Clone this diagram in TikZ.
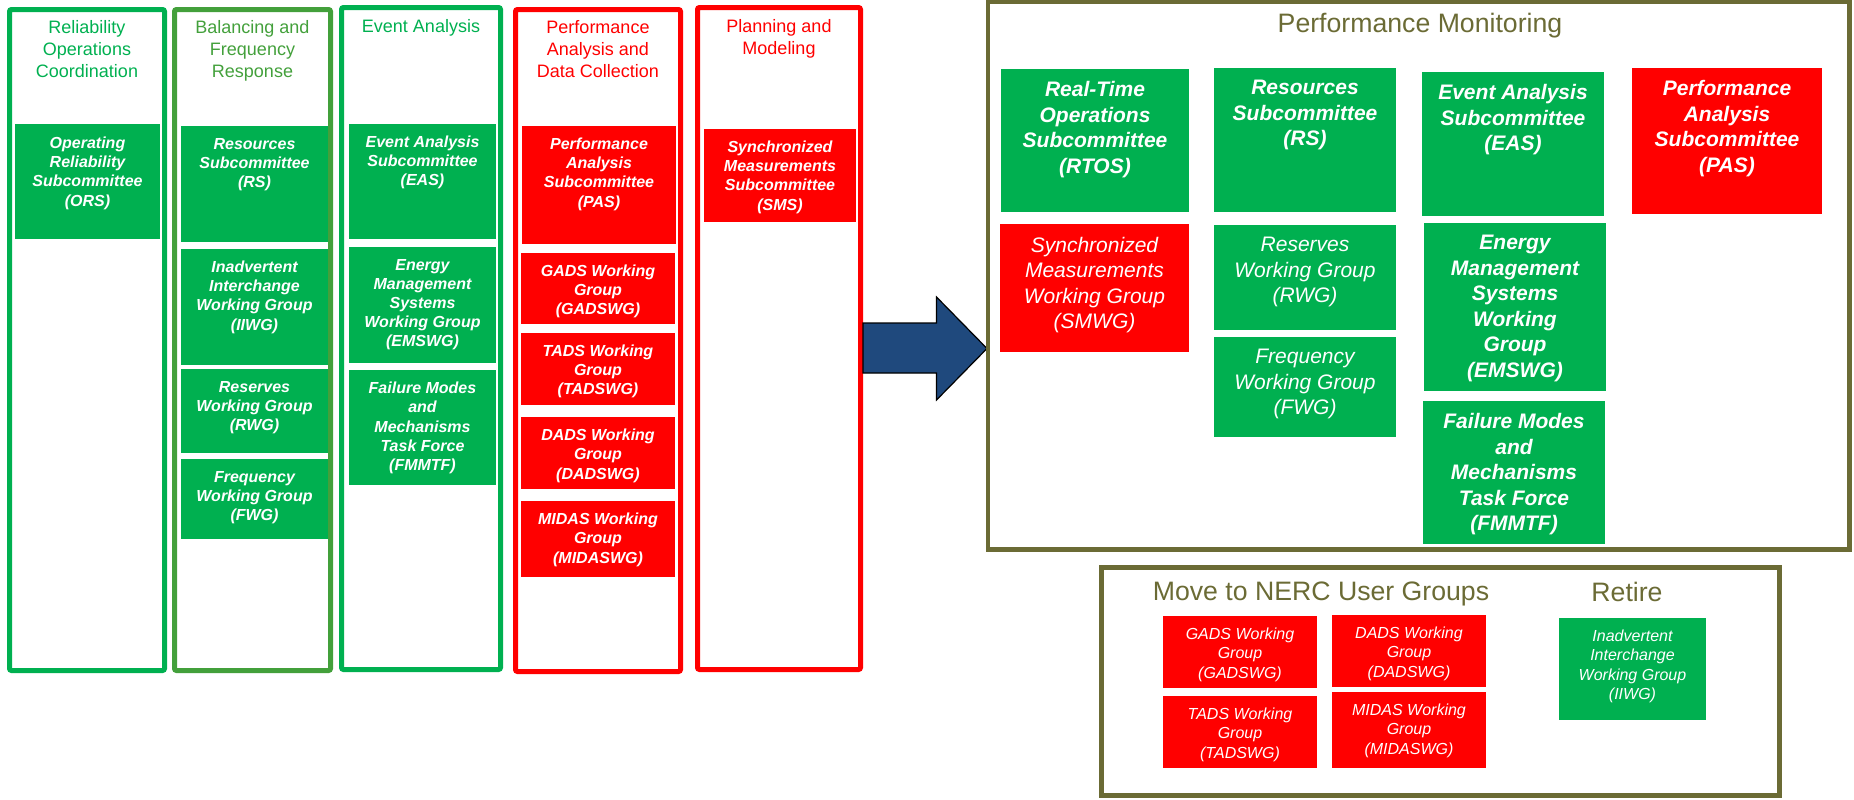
\documentclass[tikz,border=0pt]{standalone}
\usepackage{fontspec}
\setmainfont{Liberation Sans}
\usepackage{xcolor}
\usepackage{tikz}
\usetikzlibrary{fit}

\definecolor{cgreen}{HTML}{00B050}
\definecolor{cgreenb}{HTML}{43A03B}
\definecolor{cred}{HTML}{FF0000}
\definecolor{colive}{HTML}{6B6B35}
\definecolor{cblue}{HTML}{1F497D}
\newlength\pxu
\setlength\pxu{0.75pt}

\begin{document}
\begin{tikzpicture}[x=0.75pt,y=-0.75pt,
    col/.style={draw,line width=5\pxu,rounded corners=2\pxu,inner sep=0pt},
    frame/.style={draw=colive,line width=4.5\pxu,inner sep=0pt},
    gbox/.style={fill=cgreen,inner sep=0pt},
    rbox/.style={fill=cred,inner sep=0pt},
    coltitle/.style={anchor=north,align=center,inner sep=0pt,font=\fontsize{13.5}{16.3}\selectfont},
    bigtitle/.style={anchor=north,align=center,inner sep=0pt,text=colive,font=\fontsize{20}{24}\selectfont},
    btext/.style={anchor=north,align=center,inner sep=0pt,text=white,font=\fontsize{12}{14.4}\selectfont\bfseries\itshape},
    mtext/.style={anchor=north,align=center,inner sep=0pt,text=white,font=\fontsize{15.75}{19.1}\selectfont\bfseries\itshape},
    mtextr/.style={anchor=north,align=center,inner sep=0pt,text=white,font=\fontsize{15.75}{19.1}\selectfont\itshape},
    stext/.style={anchor=north,align=center,inner sep=0pt,text=white,font=\fontsize{12}{14.5}\selectfont\itshape}]
    \useasboundingbox (0,0) rectangle (1854,800);

    % old committee columns
    \node[col,draw=cgreen,fit={(9.5,9.5) (164.5,670.5)}] (roc) {};
    \node[col,draw=cgreenb,fit={(174.5,9.5) (330.5,670.5)}] (bfr) {};
    \node[col,draw=cgreen,fit={(341.5,7.5) (500.5,669.5)}] (ea) {};
    \node[col,draw=cred,fit={(515.5,9.5) (680.5,671.5)}] (padc) {};
    \node[col,draw=cred,fit={(697.5,7.5) (860.5,669.5)}] (pm) {};
    \node[coltitle,text=cgreen] (roc-t) at (87,20.5) {Reliability\\Operations\\Coordination};
    \node[coltitle,text=cgreenb] (bfr-t) at (252.5,20.5) {Balancing and\\Frequency\\Response};
    \node[coltitle,text=cgreen] (ea-t) at (421,19) {Event Analysis};
    \node[coltitle,text=cred] (padc-t) at (598,20.5) {Performance\\Analysis and\\Data Collection};
    \node[coltitle,text=cred] (pm-t) at (779,19) {Planning and\\Modeling};

    \node[gbox,fit={(15,124) (160,239)}] (ors) {};
    \node[btext] (ors-t) at ([yshift=-13\pxu]ors.north) {Operating\\Reliability\\Subcommittee\\(ORS)};
    \node[gbox,fit={(181,126) (328,242)}] (rs) {};
    \node[btext] (rs-t) at ([yshift=-12.5\pxu]rs.north) {Resources\\Subcommittee\\(RS)};
    \node[gbox,fit={(181,249) (328,365)}] (iiwg) {};
    \node[btext] (iiwg-t) at ([yshift=-12\pxu]iiwg.north) {Inadvertent\\Interchange\\Working Group\\(IIWG)};
    \node[gbox,fit={(181,369) (328,453)}] (rwg) {};
    \node[btext] (rwg-t) at ([yshift=-12\pxu]rwg.north) {Reserves\\Working Group\\(RWG)};
    \node[gbox,fit={(181,459) (328,539)}] (fwg) {};
    \node[btext] (fwg-t) at ([yshift=-12\pxu]fwg.north) {Frequency\\Working Group\\(FWG)};
    \node[gbox,fit={(349,124) (496,239)}] (eas) {};
    \node[btext] (eas-t) at ([yshift=-11.5\pxu]eas.north) {Event Analysis\\Subcommittee\\(EAS)};
    \node[gbox,fit={(349,247) (496,363)}] (emswg) {};
    \node[btext] (emswg-t) at ([yshift=-12\pxu]emswg.north) {Energy\\Management\\Systems\\Working Group\\(EMSWG)};
    \node[gbox,fit={(349,370) (496,485)}] (fmmtf) {};
    \node[btext] (fmmtf-t) at ([yshift=-12\pxu]fmmtf.north) {Failure Modes\\and\\Mechanisms\\Task Force\\(FMMTF)};
    \node[rbox,fit={(522,126) (676,244)}] (pas) {};
    \node[btext] (pas-t) at ([yshift=-12\pxu]pas.north) {Performance\\Analysis\\Subcommittee\\(PAS)};
    \node[rbox,fit={(521,253) (675,324)}] (gadswg) {};
    \node[btext] (gadswg-t) at ([yshift=-11.5\pxu]gadswg.north) {GADS Working\\Group\\(GADSWG)};
    \node[rbox,fit={(521,333) (675,405)}] (tadswg) {};
    \node[btext] (tadswg-t) at ([yshift=-12\pxu]tadswg.north) {TADS Working\\Group\\(TADSWG)};
    \node[rbox,fit={(521,417) (675,489)}] (dadswg) {};
    \node[btext] (dadswg-t) at ([yshift=-12\pxu]dadswg.north) {DADS Working\\Group\\(DADSWG)};
    \node[rbox,fit={(521,501) (675,577)}] (midaswg) {};
    \node[btext] (midaswg-t) at ([yshift=-12\pxu]midaswg.north) {MIDAS Working\\Group\\(MIDASWG)};
    \node[rbox,fit={(704,129) (856,222)}] (sms) {};
    \node[btext] (sms-t) at ([yshift=-12\pxu]sms.north) {Synchronized\\Measurements\\Subcommittee\\(SMS)};

    % the big arrow
    \draw[fill=cblue,line width=1.2\pxu,line join=miter] (pm.east |- 0,323) -- (936.5,323) -- (936.5,297)
        -- (987,348.5) -- (936.5,400) -- (936.5,373) -- (pm.east |- 0,373) -- cycle;

    % new structure
    \node[frame,fit={(988,1.5) (1849.5,549.5)}] (pmon) {};
    \node[bigtitle] (pmon-t) at (1420,13) {Performance Monitoring};
    \node[gbox,fit={(1001,69) (1189,212)}] (rtos) {};
    \node[mtext] (rtos-t) at ([yshift=-12.5\pxu]rtos.north) {Real-Time\\Operations\\Subcommittee\\(RTOS)};
    \node[gbox,fit={(1214,68) (1396,212)}] (rs2) {};
    \node[mtext] (rs2-t) at ([yshift=-12.5\pxu]rs2.north) {Resources\\Subcommittee\\(RS)};
    \node[gbox,fit={(1422,72) (1604,216)}] (eas2) {};
    \node[mtext] (eas2-t) at ([yshift=-12.5\pxu]eas2.north) {Event Analysis\\Subcommittee\\(EAS)};
    \node[rbox,fit={(1632,68) (1822,214)}] (pas2) {};
    \node[mtext] (pas2-t) at ([yshift=-12.5\pxu]pas2.north) {Performance\\Analysis\\Subcommittee\\(PAS)};
    \node[rbox,fit={(1000,224) (1189,352)}] (smwg) {};
    \node[mtextr] (smwg-t) at ([yshift=-13\pxu]smwg.north) {Synchronized\\Measurements\\Working Group\\(SMWG)};
    \node[gbox,fit={(1214,225) (1396,330)}] (rwg2) {};
    \node[mtextr] (rwg2-t) at ([yshift=-12.5\pxu]rwg2.north) {Reserves\\Working Group\\(RWG)};
    \node[gbox,fit={(1214,337) (1396,437)}] (fwg2) {};
    \node[mtextr] (fwg2-t) at ([yshift=-12.5\pxu]fwg2.north) {Frequency\\Working Group\\(FWG)};
    \node[gbox,fit={(1424,223) (1606,391)}] (emswg2) {};
    \node[mtext] (emswg2-t) at ([yshift=-12.5\pxu]emswg2.north) {Energy\\Management\\Systems\\Working\\Group\\(EMSWG)};
    \node[gbox,fit={(1423,401) (1605,544)}] (fmmtf2) {};
    \node[mtext] (fmmtf2-t) at ([yshift=-12.5\pxu]fmmtf2.north) {Failure Modes\\and\\Mechanisms\\Task Force\\(FMMTF)};

    \node[frame,line width=5\pxu,fit={(1101.5,567.5) (1779.5,795.5)}] (move) {};
    \node[bigtitle] (move-t) at (1321,582) {Move to NERC User Groups};
    \node[bigtitle] (retire-t) at (1627,582) {Retire};
    \node[rbox,fit={(1163,616) (1317,688)}] (gadswg3) {};
    \node[stext] (gadswg3-t) at ([yshift=-12\pxu]gadswg3.north) {GADS Working\\Group\\(GADSWG)};
    \node[rbox,fit={(1332,615) (1486,687)}] (dadswg3) {};
    \node[stext] (dadswg3-t) at ([yshift=-12\pxu]dadswg3.north) {DADS Working\\Group\\(DADSWG)};
    \node[rbox,fit={(1163,696) (1317,768)}] (tadswg3) {};
    \node[stext] (tadswg3-t) at ([yshift=-12\pxu]tadswg3.north) {TADS Working\\Group\\(TADSWG)};
    \node[rbox,fit={(1332,692) (1486,768)}] (midaswg3) {};
    \node[stext] (midaswg3-t) at ([yshift=-12\pxu]midaswg3.north) {MIDAS Working\\Group\\(MIDASWG)};
    \node[gbox,fit={(1559,618) (1706,720)}] (iiwg3) {};
    \node[stext] (iiwg3-t) at ([yshift=-12\pxu]iiwg3.north) {Inadvertent\\Interchange\\Working Group\\(IIWG)};
\end{tikzpicture}
\end{document}
